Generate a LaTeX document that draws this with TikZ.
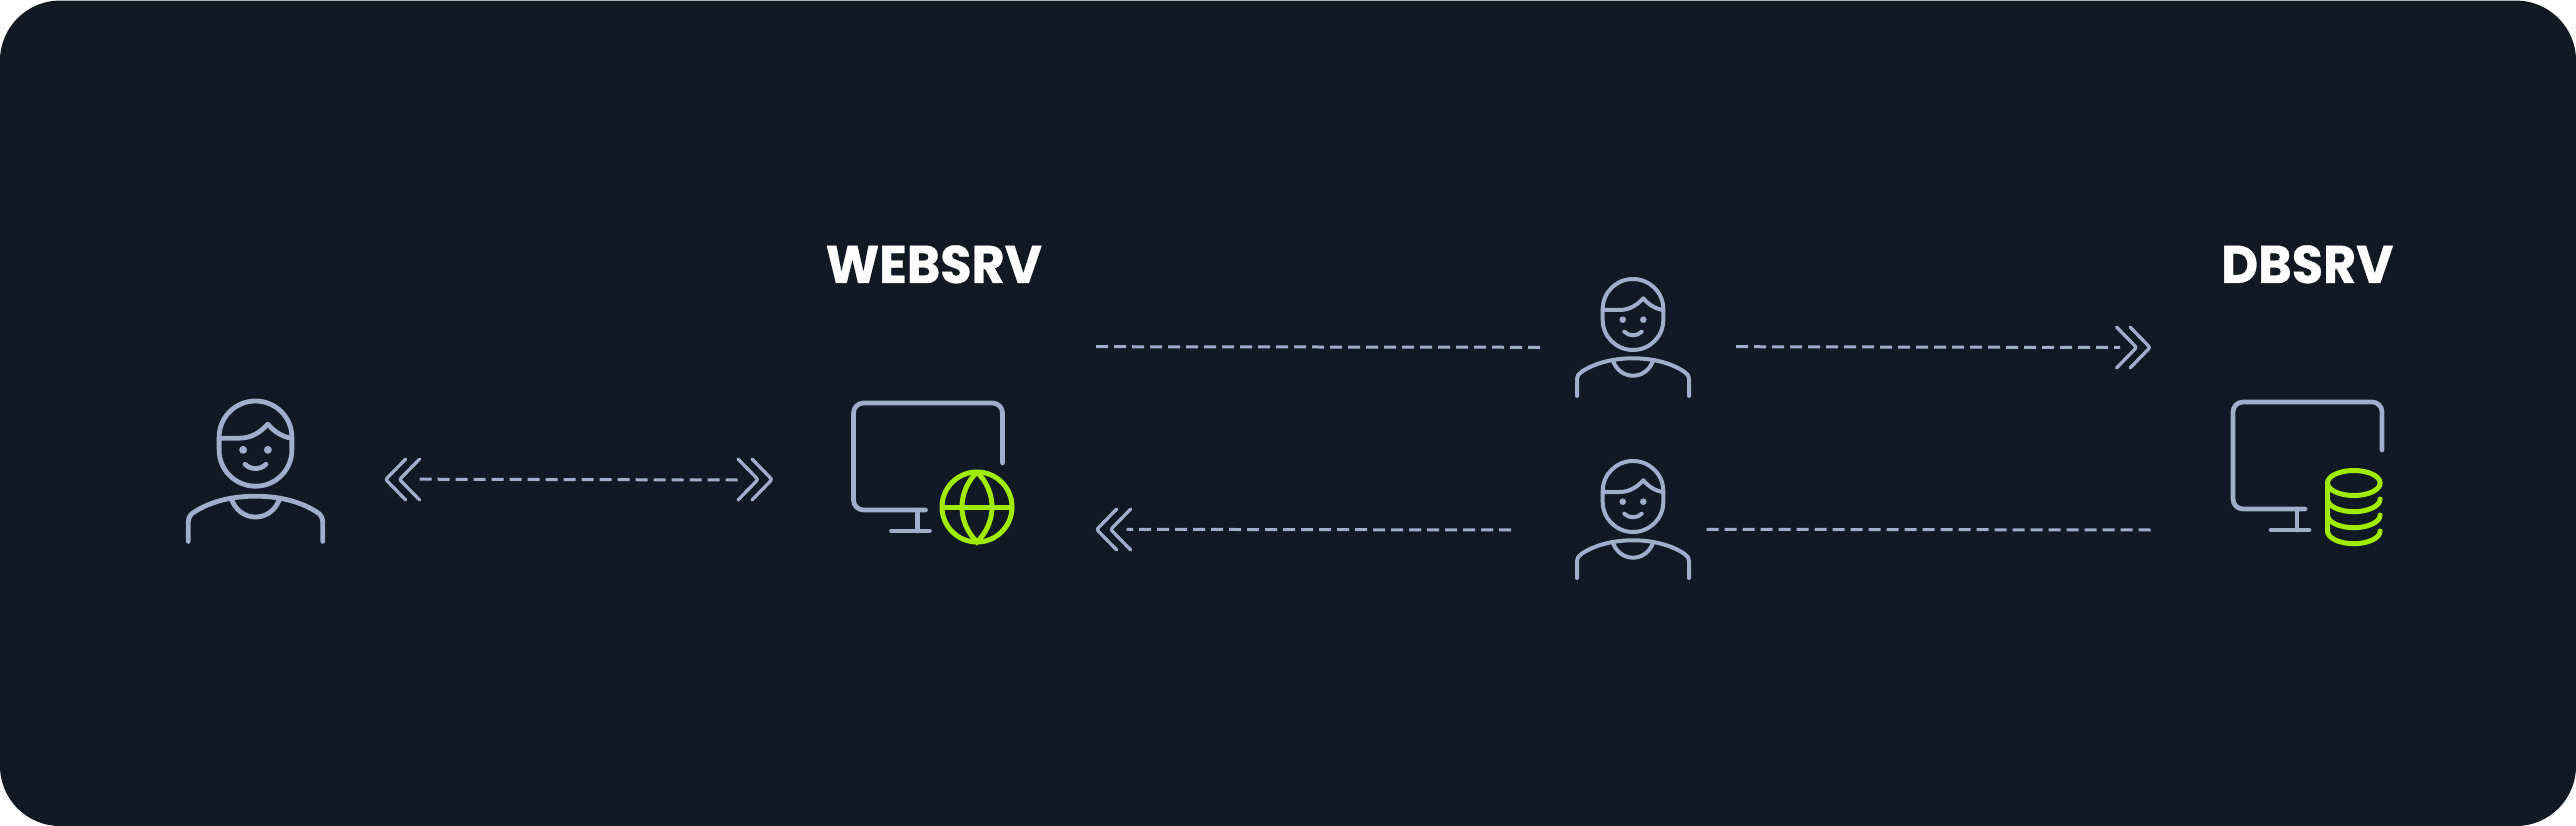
\documentclass[tikz,border=0pt]{standalone}
\usepackage{fontspec}
\setmainfont{Poppins}[BoldFeatures={FakeStretch=0.96,FakeBold=0.6}]
\definecolor{panel}{HTML}{101924}
\definecolor{iconline}{HTML}{A0AECB}
\definecolor{accent}{HTML}{A0EB00}
\tikzset{
  iconstroke/.style={draw=iconline,line cap=round,line join=round},
  flow/.style={iconline,line width=3pt,dash pattern=on 12pt off 6pt},
  chevron/.style={iconline,line width=3.3pt,line cap=round,rounded corners=2pt},
  hostname/.style={text=white,font=\fontsize{53}{53}\selectfont\bfseries,inner sep=0pt,anchor=base west},
  pics/person/.style={code={
    % head
    \draw[iconstroke,line width=#1] (-30.3,30) .. controls (-30.3,13.4) and (-16.7,0) .. (0,0) .. controls (16.7,0) and (30.3,13.4) .. (30.3,30) -- (30.3,41) .. controls (30.3,57.6) and (16.7,71) .. (0,71) .. controls (-16.7,71) and (-30.3,57.6) .. (-30.3,41) -- cycle;
    % hair
    \draw[iconstroke,line width=#1] (-30.3,31) -- (-14,31) .. controls (-3,31) and (4,26) .. (10.3,19.3) .. controls (15,25) and (22,30) .. (30.3,31);
    % eyes and smile
    \fill[iconline] (-10.3,40.7) circle [radius=3.3];
    \fill[iconline] (10.3,40.7) circle [radius=3.3];
    \draw[iconstroke,line width=#1] (-8.7,52.7) .. controls (-4,57.5) and (4,57.5) .. (8.7,52.7);
    % shoulders
    \draw[iconstroke,line width=#1] (-56,117) -- (-56,101) .. controls (-56,97) and (-54,94) .. (-51,92.5) .. controls (-38,84) and (-20,79.3) .. (0,79.3) .. controls (20,79.3) and (38,84) .. (51,92.5) .. controls (54,94) and (56,97) .. (56,101) -- (56,117);
    % collar
    \draw[iconstroke,line width=#1] (-20.3,81) .. controls (-17,91) and (-9,96.7) .. (0,96.7) .. controls (9,96.7) and (17,91) .. (20.3,81);
  }},
  pics/monitor/.style={code={
    \draw[iconstroke,line width=4.7pt,rounded corners=10pt] (149,#1) -- (149,0) -- (0,0) -- (0,107) -- (72,107);
    \draw[iconstroke,line width=4.7pt] (64,107) -- (64,128);
    \draw[iconstroke,line width=4.7pt] (38,128) -- (76,128);
  }},
  pics/globe/.style={code={
    \draw[accent,line width=5pt] (0,0) circle [radius=35];
    \draw[accent,line width=5pt] (-35,0) -- (35,0);
    \draw[accent,line width=5pt] (0,-35) .. controls (-20,-15) and (-20,15) .. (0,35) .. controls (20,15) and (20,-15) .. (0,-35);
  }},
  pics/database/.style={code={
    \draw[accent,line width=5pt] (0,0) ellipse [x radius=26.3,y radius=12.5];
    \draw[accent,line width=5pt,line cap=round] (-26.3,0) -- (-26.3,48);
    \foreach \dy in {16,32,48}
      \draw[accent,line width=5pt,line cap=round] (-26.3,\dy) .. controls (-26.3,\dy+7) and (-14.5,\dy+12.7) .. (0,\dy+12.7) .. controls (14.5,\dy+12.7) and (26.3,\dy+7) .. (26.3,\dy);
  }}
}
\begin{document}
\begin{tikzpicture}[x=1pt,y=-1pt]
  \useasboundingbox (0,0) rectangle (2576,826);
  % panel
  \fill[panel,rounded corners=60pt] (0,0.6) rectangle (2576,826);
  % hosts
  \node[hostname] (websrv) at (825.5,283) {WEBSRV};
  \node[hostname] (dbsrv) at (2221,283) {DBSRV};
  \pic at (853.5,403) {monitor=60};
  \pic at (977,507) {globe};
  \pic at (2233,402) {monitor=48};
  \pic at (2353.8,483) {database};
  % people
  \pic[scale=1.2] at (255.5,401) {person=4.8pt};
  \pic at (1633,279) {person=4pt};
  \pic at (1633,461) {person=4pt};
  % client and web server
  \coordinate (clientout) at (419.6,479.2);
  \coordinate (webin) at (737.5,480);
  \draw[flow] (clientout) -- (webin);
  \draw[chevron] (405.7,459) -- (385.7,479.5) -- (405.7,500);
  \draw[chevron] (419.6,459) -- (399.6,479.5) -- (419.6,500);
  \draw[chevron] (738,459) -- (758,479.5) -- (738,500);
  \draw[chevron] (752,459) -- (772,479.5) -- (752,500);
  % top row
  \coordinate (webout) at (1096,346.7);
  \coordinate (sniffin) at (1540,347.3);
  \draw[flow] (webout) -- (sniffin);
  \coordinate (sniffout) at (1736,346.7);
  \coordinate (dbin) at (2120,347.5);
  \draw[flow] (sniffout) -- (dbin);
  \draw[chevron] (2116.5,327) -- (2136.5,347.5) -- (2116.5,368);
  \draw[chevron] (2130,327) -- (2150,347.5) -- (2130,368);
  % bottom row
  \coordinate (dbout) at (2151,530);
  \coordinate (sniffback) at (1706.7,529.3);
  \draw[flow] (sniffback) -- (dbout);
  \coordinate (replyout) at (1511,530);
  \coordinate (webback) at (1126.7,529.3);
  \draw[flow] (replyout) -- (webback);
  \draw[chevron] (1116.7,509) -- (1096.7,529.5) -- (1116.7,550);
  \draw[chevron] (1130.7,509) -- (1110.7,529.5) -- (1130.7,550);
\end{tikzpicture}
\end{document}
